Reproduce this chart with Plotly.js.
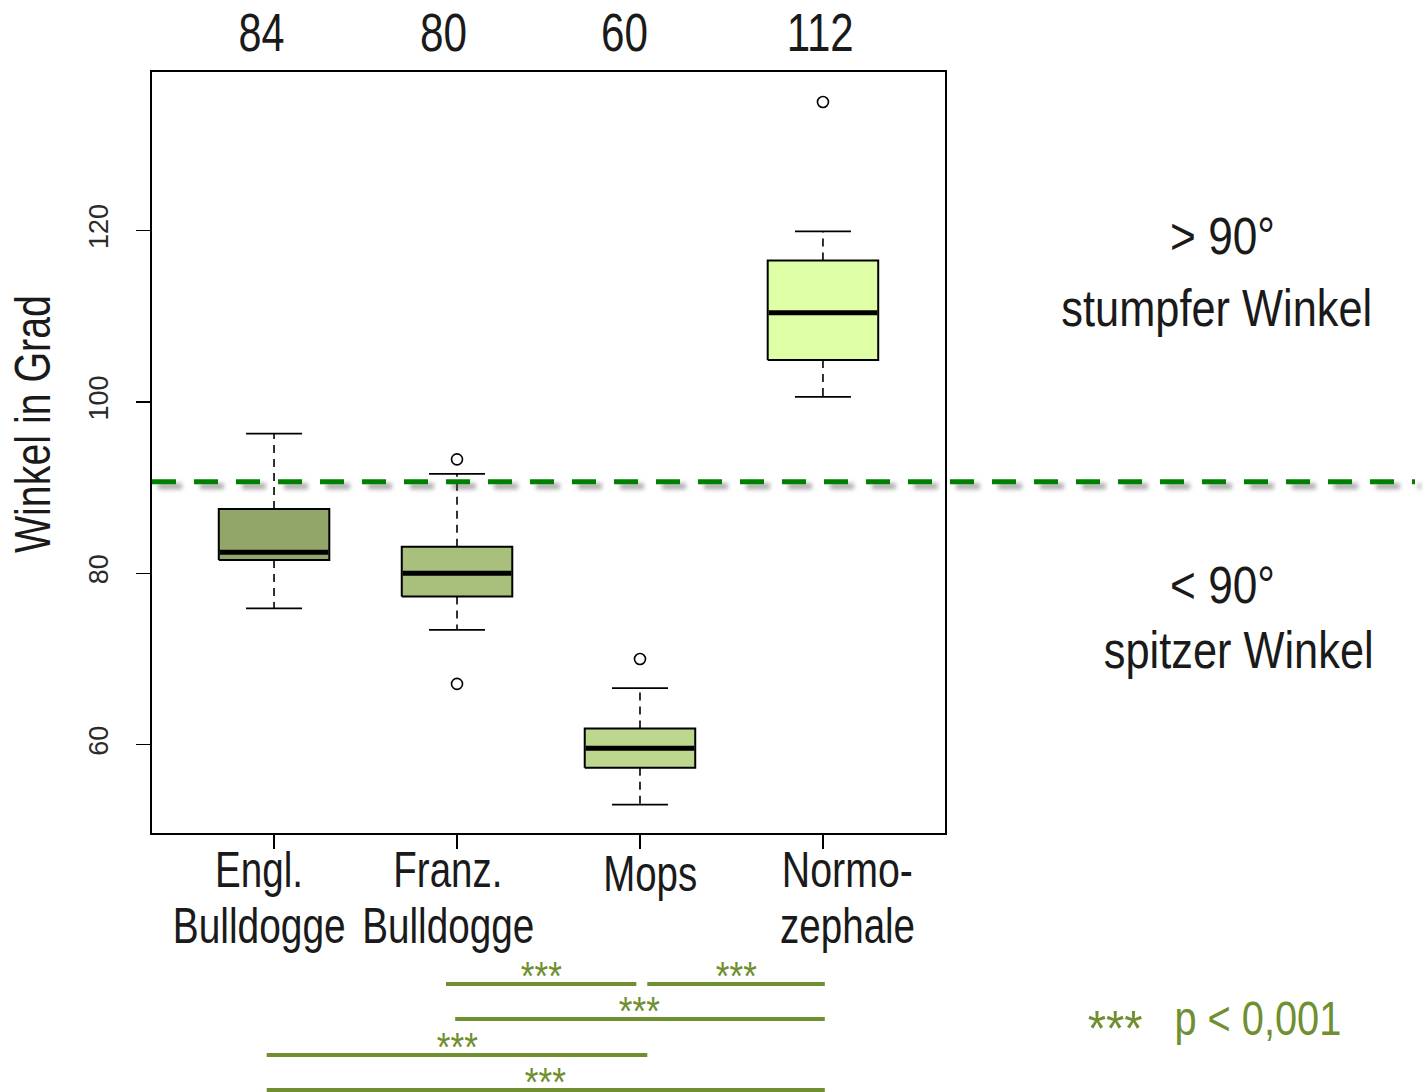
<!DOCTYPE html>
<html>
<head>
<meta charset="utf-8">
<script src="https://cdn.plot.ly/plotly-3.0.1.min.js"></script>
<style>
html,body{margin:0;padding:0;background:#fff;}
#chart{width:1423px;height:1092px;}
</style>
</head>
<body>
<div id="chart"></div>
<script>
// ---------------- data ----------------
const categories = ['Engl. Bulldogge', 'Franz. Bulldogge', 'Mops', 'Normozephale'];
const catLine1 = ['Engl.', 'Franz.', 'Mops', 'Normo-'];
const catLine2 = ['Bulldogge', 'Bulldogge', '', 'zephale'];
const nCounts = [84, 80, 60, 112];

const lowerWhisker = [75.9, 73.4, 53.0, 100.6];
const q1Values     = [81.55, 77.3, 57.3, 104.9];
const medianValues = [82.45, 80.0, 59.6, 110.4];
const q3Values     = [87.5, 83.1, 61.9, 116.5];
const upperWhisker = [96.3, 91.6, 66.6, 119.9];

const outlierGroup = [2, 2, 3, 4];
const outlierValue = [93.3, 67.1, 70.0, 135.0];

const boxColors = ['#93a66a', '#a9bf7c', '#bdd88e', '#dfffa6'];

const referenceAngle = 90.7;

// significance comparisons (group positions on the x axis)
const sigFrom = [1.94, 3.04, 1.99, 0.96, 0.96];
const sigTo   = [2.98, 4.01, 4.01, 3.04, 4.01];
const sigLabel = ['***', '***', '***', '***', '***'];

const yTicks = [60, 80, 100, 120];

// ---------------- layout helpers ----------------
const L = 152, R = 945, T = 72, B = 833;
const px = X => (X - L) / (R - L);
const py = Y => (B - Y) / (B - T);
const SANS = '"Liberation Sans", Arial, sans-serif';
const TXT = '#1a1a1a';
const OLIVE = '#6f8f30';

const halfBox = 0.302, halfCap = 0.153;
const traces = [];
for (let i = 0; i < categories.length; i++) {
  const x = i + 1;
  traces.push({
    type: 'scatter', mode: 'lines', hoverinfo: 'skip', showlegend: false,
    x: [x - halfBox, x + halfBox, x + halfBox, x - halfBox, x - halfBox],
    y: [q1Values[i], q1Values[i], q3Values[i], q3Values[i], q1Values[i]],
    fill: 'toself', fillcolor: boxColors[i],
    line: {color: '#000', width: 2}
  });
  traces.push({
    type: 'scatter', mode: 'lines', hoverinfo: 'skip', showlegend: false,
    x: [x, x, null, x, x],
    y: [q3Values[i], upperWhisker[i], null, q1Values[i], lowerWhisker[i]],
    line: {color: '#000', width: 1.6, dash: '8px,6px'}
  });
  traces.push({
    type: 'scatter', mode: 'lines', hoverinfo: 'skip', showlegend: false,
    x: [x - halfCap, x + halfCap, null, x - halfCap, x + halfCap],
    y: [upperWhisker[i], upperWhisker[i], null, lowerWhisker[i], lowerWhisker[i]],
    line: {color: '#000', width: 1.8}
  });
  traces.push({
    type: 'scatter', mode: 'lines', hoverinfo: 'skip', showlegend: false,
    x: [x - halfBox + 0.005, x + halfBox - 0.005],
    y: [medianValues[i], medianValues[i]],
    line: {color: '#000', width: 5}
  });
}
traces.push({
  type: 'scatter', mode: 'markers', hoverinfo: 'skip', showlegend: false,
  x: outlierGroup, y: outlierValue,
  marker: {symbol: 'circle-open', size: 11, color: '#000', line: {width: 1.6, color: '#000'}}
});

// annotations, each with the rendered width it should be squeezed to (narrow typeface look)
const annotations = [];
const squeeze = [];
function addAnn(a, width) { annotations.push(a); squeeze.push(width || 0); }

const numShift = [-13, -14, -15, -2];
const numWidth = [46, 47, 47, 67];
nCounts.forEach((n, i) => addAnn({
  xref: 'x', yref: 'paper', x: i + 1, y: py(33), xshift: numShift[i],
  xanchor: 'center', yanchor: 'middle', showarrow: false,
  text: String(n), font: {family: SANS, size: 53, color: TXT}
}, numWidth[i]));

const labShift = [-15, -9, 10, 25];
const line1Width = [88, 109, 94, 131];
const line2Width = [173, 172, 0, 135];
catLine1.forEach((t, i) => addAnn({
  xref: 'x', yref: 'paper', x: i + 1, y: py(catLine2[i] ? 870 : 874), xshift: labShift[i],
  xanchor: 'center', yanchor: 'middle', showarrow: false,
  text: t, font: {family: SANS, size: 50, color: TXT}
}, line1Width[i]));
catLine2.forEach((t, i) => { if (t) addAnn({
  xref: 'x', yref: 'paper', x: i + 1, y: py(926), xshift: labShift[i],
  xanchor: 'center', yanchor: 'middle', showarrow: false,
  text: t, font: {family: SANS, size: 50, color: TXT}
}, line2Width[i]); });

// right side texts
addAnn({xref: 'paper', yref: 'paper', x: px(1222), y: py(237), xanchor: 'center', yanchor: 'middle', showarrow: false,
  text: '&gt; 90°', font: {family: SANS, size: 51, color: TXT}}, 105);
addAnn({xref: 'paper', yref: 'paper', x: px(1217), y: py(308), xanchor: 'center', yanchor: 'middle', showarrow: false,
  text: 'stumpfer Winkel', font: {family: SANS, size: 51, color: TXT}}, 311);
addAnn({xref: 'paper', yref: 'paper', x: px(1222), y: py(585), xanchor: 'center', yanchor: 'middle', showarrow: false,
  text: '&lt; 90°', font: {family: SANS, size: 51, color: TXT}}, 105);
addAnn({xref: 'paper', yref: 'paper', x: px(1238), y: py(650), xanchor: 'center', yanchor: 'middle', showarrow: false,
  text: 'spitzer Winkel', font: {family: SANS, size: 51, color: TXT}}, 270);
// y axis title
addAnn({xref: 'paper', yref: 'paper', x: px(33), y: py(424), xanchor: 'center', yanchor: 'middle', showarrow: false,
  textangle: -90, text: 'Winkel in Grad', font: {family: SANS, size: 50, color: TXT}}, 258);
// legend for significance
addAnn({xref: 'paper', yref: 'paper', x: px(1115), y: py(1029), xanchor: 'center', yanchor: 'middle', showarrow: false,
  text: '***', font: {family: SANS, size: 50, color: OLIVE}}, 55);
addAnn({xref: 'paper', yref: 'paper', x: px(1258), y: py(1018), xanchor: 'center', yanchor: 'middle', showarrow: false,
  text: 'p &lt; 0,001', font: {family: SANS, size: 49, color: OLIVE}}, 167);

const sigRowY = [984, 984, 1019, 1055, 1090];
const shapes = [];
// dashed reference line with soft shadow
shapes.push({type: 'line', layer: 'above', xref: 'paper', yref: 'y', x0: px(158), x1: px(1421),
  y0: referenceAngle - 0.55, y1: referenceAngle - 0.55,
  line: {color: 'rgba(90,90,90,0.5)', width: 6, dash: '24px,18px'}});
shapes.push({type: 'line', layer: 'above', xref: 'paper', yref: 'y', x0: 0, x1: px(1415),
  y0: referenceAngle, y1: referenceAngle,
  line: {color: '#008000', width: 5, dash: '24px,18px'}});
sigFrom.forEach((f, i) => {
  shapes.push({type: 'line', xref: 'x', yref: 'paper', x0: f, x1: sigTo[i],
    y0: py(sigRowY[i]), y1: py(sigRowY[i]), line: {color: OLIVE, width: 4}});
  addAnn({xref: 'x', yref: 'paper', x: (f + sigTo[i]) / 2, y: py(sigRowY[i] - 8),
    xanchor: 'center', yanchor: 'middle', showarrow: false,
    text: sigLabel[i], font: {family: SANS, size: 40, color: OLIVE}}, 41);
});

const layout = {
  width: 1423, height: 1092,
  margin: {l: L, r: 1423 - R, t: T, b: 1092 - B},
  paper_bgcolor: '#fff', plot_bgcolor: '#fff',
  showlegend: false,
  xaxis: {
    range: [0.333, 4.667], tickvals: [1, 2, 3, 4], showticklabels: false,
    ticks: 'outside', ticklen: 14, tickwidth: 1.5, tickcolor: '#000',
    showgrid: false, zeroline: false, showline: true, mirror: true,
    linecolor: '#000', linewidth: 1.6
  },
  yaxis: {
    range: [49.7, 138.5], tickvals: yTicks, ticktext: yTicks.map(String),
    ticks: 'outside', ticklen: 14, tickwidth: 1.5, tickcolor: '#000',
    tickangle: -90, tickfont: {family: SANS, size: 27, color: '#2a2a2a'},
    ticklabelstandoff: 18,
    showgrid: false, zeroline: false, showline: true, mirror: true,
    linecolor: '#000', linewidth: 1.6
  },
  annotations: annotations,
  shapes: shapes
};

Plotly.newPlot('chart', traces, layout, {displayModeBar: false, staticPlot: true}).then(gd => {
  // squeeze annotation texts horizontally (in their own frame) to mimic a narrow typeface
  gd.querySelectorAll('g.annotation').forEach(g => {
    const idx = +g.getAttribute('data-index');
    const w = squeeze[idx];
    const t = g.querySelector('text.annotation-text');
    if (!w || !t) return;
    const bb = t.getBBox();
    if (!bb.width) return;
    const s = w / bb.width;
    const cx = bb.x + bb.width / 2;
    const prev = t.getAttribute('transform') || '';
    t.setAttribute('transform', prev + ' translate(' + cx + ',0) scale(' + s + ',1) translate(' + (-cx) + ',0)');
  });
  const shadow = gd.querySelector('.shapelayer path[data-index="0"]');
  if (shadow) shadow.style.filter = 'blur(2px)';
});
</script>
</body>
</html>
